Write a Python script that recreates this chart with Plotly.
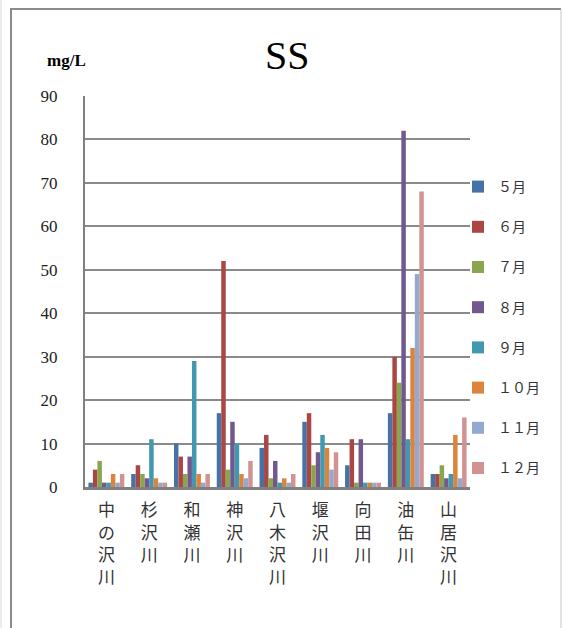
import plotly.graph_objects as go

categories = ["中の沢川", "杉沢川", "和瀬川", "神沢川", "八木沢川", "堰沢川", "向田川", "油缶川", "山居沢川"]
months = ["５月", "６月", "７月", "８月", "９月", "１０月", "１１月", "１２月"]

may = [1, 3, 10, 17, 9, 15, 5, 17, 3]
jun = [4, 5, 7, 52, 12, 17, 11, 30, 3]
jul = [6, 3, 3, 4, 2, 5, 1, 24, 5]
aug = [1, 2, 7, 15, 6, 8, 11, 82, 2]
sep = [1, 11, 29, 10, 1, 12, 1, 11, 3]
oct_ = [3, 2, 3, 3, 2, 9, 1, 32, 12]
nov = [1, 1, 1, 2, 1, 4, 1, 49, 2]
dec = [3, 1, 3, 6, 3, 8, 1, 68, 16]
series = [may, jun, jul, aug, sep, oct_, nov, dec]

colors = ["#4572A7", "#AA4643", "#89A54E", "#71588F", "#4198AF", "#DB843D", "#93A9CF", "#D19392"]

tick_text = ["<br>".join(list(c)) for c in categories]

W, H = 562, 628
L, R, T, B = 85, 470, 96, 487
pw, ph = R - L, B - T


def px(x):
    return (x - L) / pw


def py(y):
    return (B - y) / ph


fig = go.Figure()
for i, (m, vals) in enumerate(zip(months, series)):
    fig.add_trace(go.Bar(
        x=categories, y=vals, name=m, legendgroup=m,
        marker=dict(color=colors[i], line=dict(width=0)),
    ))

fig.update_layout(
    width=W, height=H,
    margin=dict(l=L, r=W - R, t=T, b=H - B, pad=0, autoexpand=False),
    paper_bgcolor="white", plot_bgcolor="white",
    barmode="group", bargap=0.16, bargroupgap=0,
    showlegend=True,
    legend=dict(
        x=px(458), y=py(171), xanchor="left", yanchor="top",
        font=dict(family="Liberation Serif, Noto Sans CJK JP", size=14, color="#333"),
        tracegroupgap=19, itemwidth=30, bgcolor="rgba(0,0,0,0)",
    ),
    xaxis=dict(
        tickmode="array", tickvals=categories, ticktext=tick_text,
        tickfont=dict(family="Noto Sans CJK JP", size=17, color="#333"),
        showline=True, linecolor="#808080", linewidth=3,
        showgrid=False, ticks="", tickangle=0, ticklabelstandoff=6,
    ),
    yaxis=dict(
        range=[0, 90], dtick=10, tick0=0,
        tickfont=dict(family="Liberation Serif", size=17, color="#222"),
        showline=True, linecolor="#808080", linewidth=2,
        showgrid=True, gridcolor="#8a8a8a", gridwidth=2,
        zeroline=False, ticks="", ticklabelstandoff=22,
    ),
    annotations=[
        dict(text="SS", x=px(287), y=py(55), xref="paper", yref="paper",
             xanchor="center", yanchor="middle",
             showarrow=False, font=dict(family="Liberation Serif", size=40, color="#000")),
        dict(text="<b>mg/L</b>", x=px(66), y=py(61), xref="paper", yref="paper",
             xanchor="center", yanchor="middle",
             showarrow=False, font=dict(family="Liberation Serif", size=17, color="#000")),
    ],
    shapes=[
        dict(type="line", xref="paper", yref="paper", x0=px(11), x1=px(11), y0=py(8), y1=py(640),
             line=dict(color="#8c8c8c", width=2)),
        dict(type="line", xref="paper", yref="paper", x0=px(10), x1=px(561), y0=py(9), y1=py(9),
             line=dict(color="#8c8c8c", width=2)),
        dict(type="line", xref="paper", yref="paper", x0=px(561), x1=px(561), y0=py(9), y1=py(640),
             line=dict(color="#c8c8c8", width=1)),
        dict(type="line", xref="paper", yref="paper", x0=px(1), x1=px(1), y0=py(0), y1=py(640),
             line=dict(color="#d8d8d8", width=1)),
    ],
)

fig.write_html("out.html")
